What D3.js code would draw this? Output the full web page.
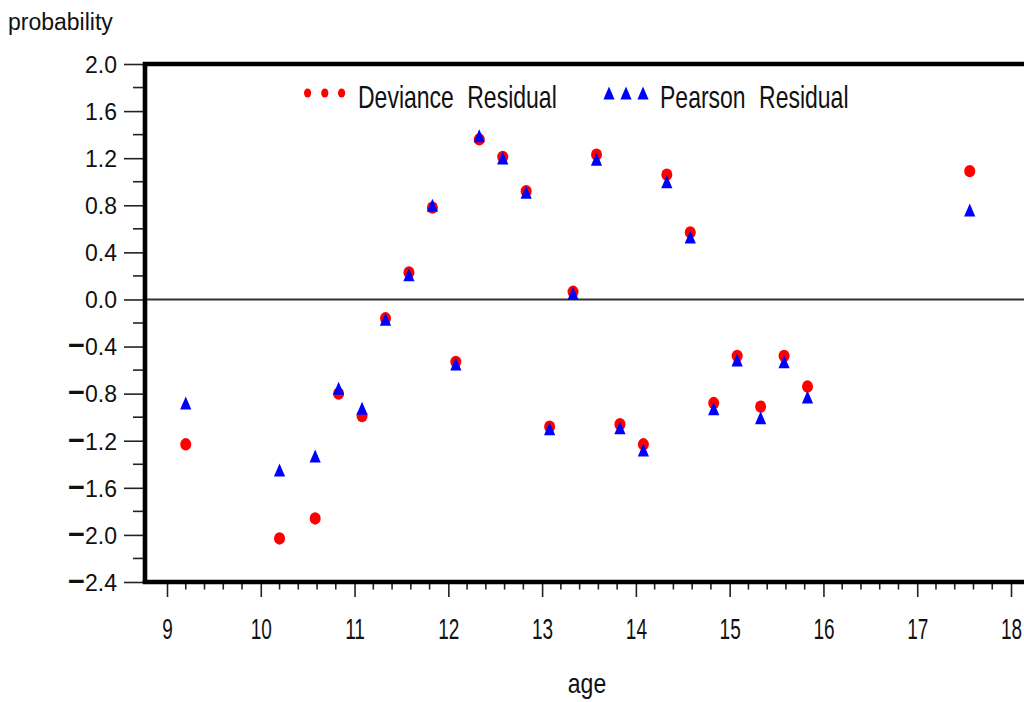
<!DOCTYPE html>
<html>
<head>
<meta charset="utf-8">
<script src="https://cdn.jsdelivr.net/npm/d3@7"></script>
<style>
  html, body { margin: 0; padding: 0; background: #fff; }
  svg { display: block; }
  text { font-family: "Liberation Sans", Arial, Helvetica, sans-serif; fill: #111; }
</style>
</head>
<body>
<svg id="chart" width="1024" height="702"></svg>
<script>
// ---- data ----
const ages = [9.2, 10.2, 10.58, 10.83, 11.08, 11.33, 11.58, 11.83, 12.08, 12.33, 12.58, 12.83,
              13.08, 13.33, 13.58, 13.83, 14.08, 14.33, 14.58, 14.83, 15.08, 15.33, 15.58, 15.83, 17.56];
const devianceResidual = [-1.23, -2.03, -1.86, -0.80, -0.99, -0.16, 0.23, 0.78, -0.53, 1.36, 1.21, 0.92,
                          -1.08, 0.065, 1.23, -1.06, -1.23, 1.06, 0.57, -0.88, -0.48, -0.91, -0.48, -0.74, 1.09];
const pearsonResidual = [-0.88, -1.45, -1.33, -0.755, -0.925, -0.17, 0.21, 0.80, -0.55, 1.39, 1.20, 0.91,
                         -1.10, 0.05, 1.19, -1.09, -1.28, 1.00, 0.53, -0.93, -0.515, -1.005, -0.53, -0.83, 0.76];
const xTickValues = [9, 10, 11, 12, 13, 14, 15, 16, 17, 18];
const yTickValues = [2.0, 1.6, 1.2, 0.8, 0.4, 0.0, -0.4, -0.8, -1.2, -1.6, -2.0, -2.4];
const seriesNames = ["Deviance Residual", "Pearson Residual"];
const yTitle = "probability";
const xTitle = "age";

// ---- layout ----
const svg = d3.select("#chart");
svg.append("rect").attr("width", 1024).attr("height", 702).attr("fill", "#fff");

const x = d3.scaleLinear().domain([9, 18]).range([167, 1011]);
const y = d3.scaleLinear().domain([-2.4, 2.0]).range([582, 64]);
const frameLeft = 145, frameRight = 1040;

// y axis
const yAxis = svg.append("g").attr("transform", "translate(143,0)")
  .call(d3.axisLeft(y).tickValues(yTickValues).tickSize(19).tickPadding(7));
yAxis.select(".domain").remove();
yAxis.selectAll(".tick line").attr("stroke", "#222").attr("stroke-width", 1.6);
yAxis.selectAll(".tick text").each(function(d) {
  const t = d3.select(this);
  t.text(null).attr("font-size", 23).attr("dy", "0.36em").attr("fill", "#111");
  if (d < 0) t.append("tspan").attr("font-weight", "bold").attr("font-size", 29).text("\u2212");
  t.append("tspan").text(Math.abs(d).toFixed(1));
});
// y minor ticks
svg.append("g").selectAll("line")
  .data(d3.range(-2.2, 2.0, 0.4))
  .join("line")
  .attr("x1", 133).attr("x2", 143)
  .attr("y1", d => y(d)).attr("y2", d => y(d))
  .attr("stroke", "#222").attr("stroke-width", 1.6);

// x axis
const xAxis = svg.append("g").attr("transform", "translate(0,584)")
  .call(d3.axisBottom(x).tickValues(xTickValues).tickSize(13).tickFormat(d3.format("d")));
xAxis.select(".domain").remove();
xAxis.selectAll(".tick line").attr("stroke", "#222").attr("stroke-width", 1.6);
xAxis.selectAll(".tick text")
  .attr("y", null).attr("dy", null)
  .attr("font-size", 19).attr("fill", "#111")
  .attr("transform", "translate(0,55) scale(1,1.52)");
// x minor ticks
svg.append("g").selectAll("line")
  .data(d3.range(9, 18.5, 0.2).filter(v => Math.abs(v - Math.round(v)) > 0.05))
  .join("line")
  .attr("x1", d => x(d)).attr("x2", d => x(d))
  .attr("y1", 584).attr("y2", 589.5)
  .attr("stroke", "#222").attr("stroke-width", 1.6);

// zero reference line
svg.append("line")
  .attr("x1", frameLeft).attr("x2", frameRight)
  .attr("y1", y(0)).attr("y2", y(0))
  .attr("stroke", "#333").attr("stroke-width", 2);

// frame
const frame = svg.append("g").attr("stroke", "#000").attr("stroke-width", 4.6).attr("fill", "none");
frame.append("line").attr("x1", frameLeft - 2.3).attr("x2", frameRight).attr("y1", y(2.0)).attr("y2", y(2.0));
frame.append("line").attr("x1", frameLeft - 2.3).attr("x2", frameRight).attr("y1", y(-2.4)).attr("y2", y(-2.4));
frame.append("line").attr("x1", frameLeft).attr("x2", frameLeft).attr("y1", y(2.0)).attr("y2", y(-2.4));

// titles
svg.append("text").attr("x", 8).attr("y", 30).attr("font-size", 23).text(yTitle);
svg.append("text").attr("transform", "translate(587,693) scale(1,1.2)")
  .attr("text-anchor", "middle").attr("font-size", 23).text(xTitle);

// data marks
const triPath = "M0,-6.6L5.6,6.4L-5.6,6.4Z";
svg.append("g").selectAll("ellipse")
  .data(ages.map((a, i) => [a, devianceResidual[i]]))
  .join("ellipse")
  .attr("cx", d => x(d[0])).attr("cy", d => y(d[1]))
  .attr("rx", 5.5).attr("ry", 6.2)
  .attr("fill", "#ff0000");
svg.append("g").selectAll("path")
  .data(ages.map((a, i) => [a, pearsonResidual[i]]))
  .join("path")
  .attr("d", triPath)
  .attr("transform", d => `translate(${x(d[0])},${y(d[1])})`)
  .attr("fill", "#0000ff");

// legend
const leg = svg.append("g");
[307.6, 324.8, 341.6].forEach(cx => {
  leg.append("ellipse").attr("cx", cx).attr("cy", 93).attr("rx", 3.6).attr("ry", 4.6).attr("fill", "#ff0000");
});
leg.append("text").attr("transform", "translate(358,108) scale(1,1.34)")
  .attr("font-size", 23).attr("word-spacing", 7).text(seriesNames[0]);
[609, 626, 643].forEach(cx => {
  leg.append("path").attr("d", triPath).attr("transform", `translate(${cx},93)`).attr("fill", "#0000ff");
});
leg.append("text").attr("transform", "translate(660,108) scale(1,1.34)")
  .attr("font-size", 23).attr("word-spacing", 7).text(seriesNames[1]);
</script>
</body>
</html>
